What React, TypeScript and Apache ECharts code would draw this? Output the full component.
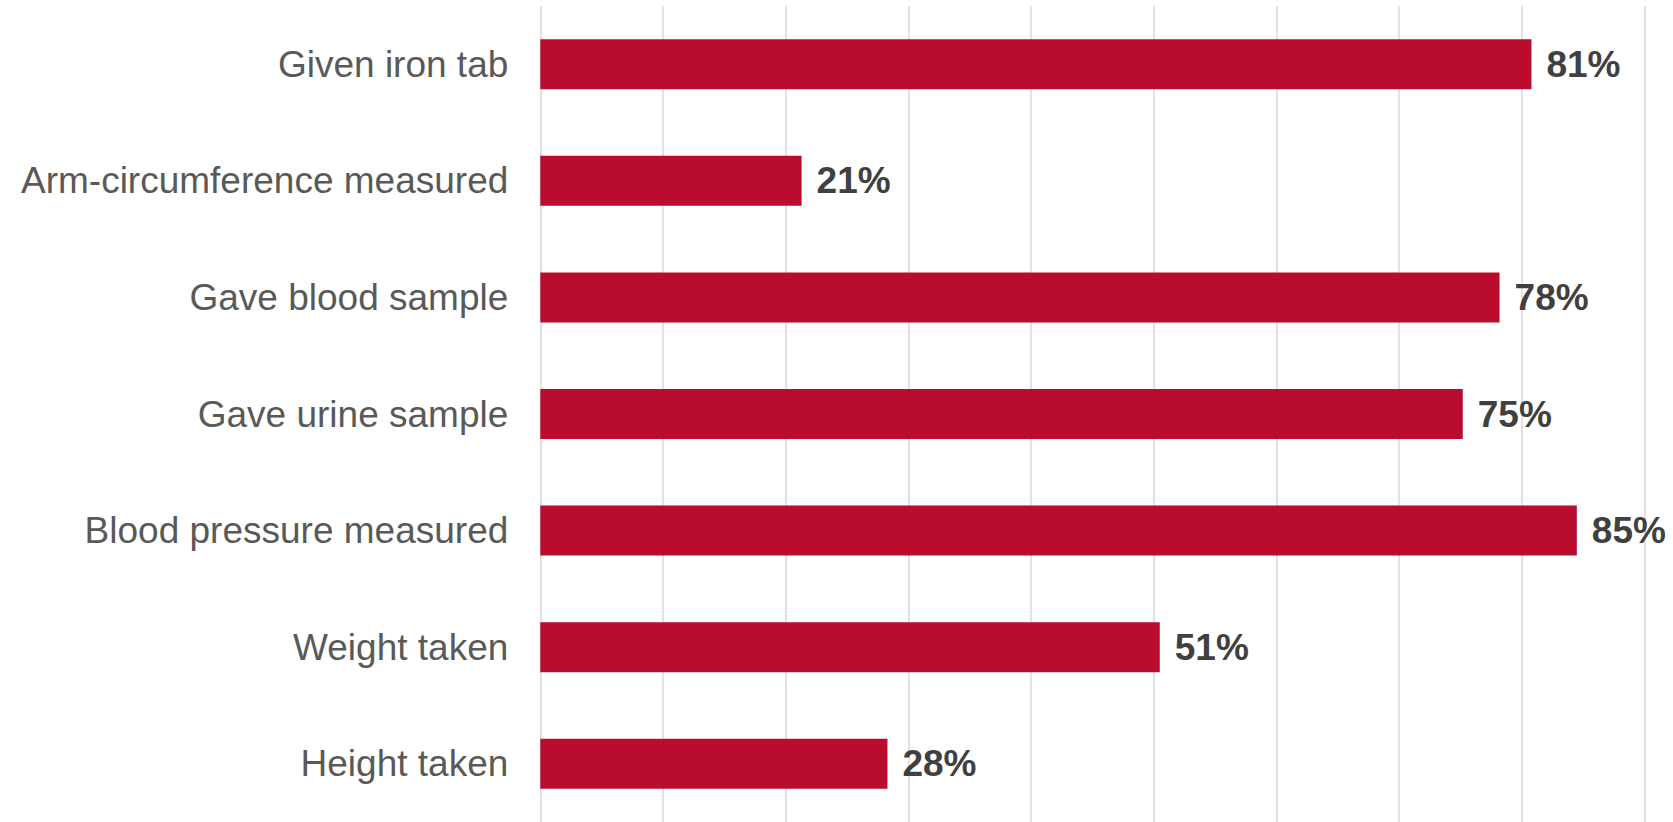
import React, { useEffect, useRef } from "react";
import * as echarts from "echarts";

const categories = [
  "Given iron tab",
  "Arm-circumference measured",
  "Gave blood sample",
  "Gave urine sample",
  "Blood pressure measured",
  "Weight taken",
  "Height taken",
];
const values = [0.808, 0.213, 0.782, 0.752, 0.845, 0.505, 0.283];
const axisMax = 0.9;
const axisInterval = 0.1;

export default function App() {
  const ref = useRef<HTMLDivElement>(null);
  useEffect(() => {
    if (!ref.current) return;
    const chart = echarts.init(ref.current, null, { renderer: "svg" });
    chart.setOption({
      animation: false,
      backgroundColor: "#ffffff",
      grid: { left: 540.3, right: 28.7, top: 6, height: 818, containLabel: false },
      xAxis: {
        type: "value",
        min: 0,
        max: axisMax,
        interval: axisInterval,
        axisLabel: { show: false },
        axisTick: { show: false },
        axisLine: { show: false },
        splitLine: { show: true, lineStyle: { color: "#d9d9d9", width: 1.5 } },
      },
      yAxis: {
        type: "category",
        data: categories,
        inverse: true,
        axisLine: { show: false },
        axisTick: { show: false },
        axisLabel: {
          margin: 32,
          color: "#595959",
          fontSize: 37,
          fontFamily: "Liberation Sans, Arial, sans-serif",
        },
      },
      series: [
        {
          type: "bar",
          data: values,
          barWidth: 50,
          itemStyle: { color: "#BA0C2F" },
          label: {
            show: true,
            position: "right",
            distance: 15,
            color: "#404040",
            fontWeight: "bold",
            fontSize: 37,
            fontFamily: "Liberation Sans, Arial, sans-serif",
            formatter: (p: any) => Math.round(p.value * 100) + "%",
          },
        },
      ],
    });
    return () => chart.dispose();
  }, []);
  return (
    <div
      ref={ref}
      style={{ position: "fixed", left: 0, top: 0, width: 1673, height: 822 }}
    />
  );
}
